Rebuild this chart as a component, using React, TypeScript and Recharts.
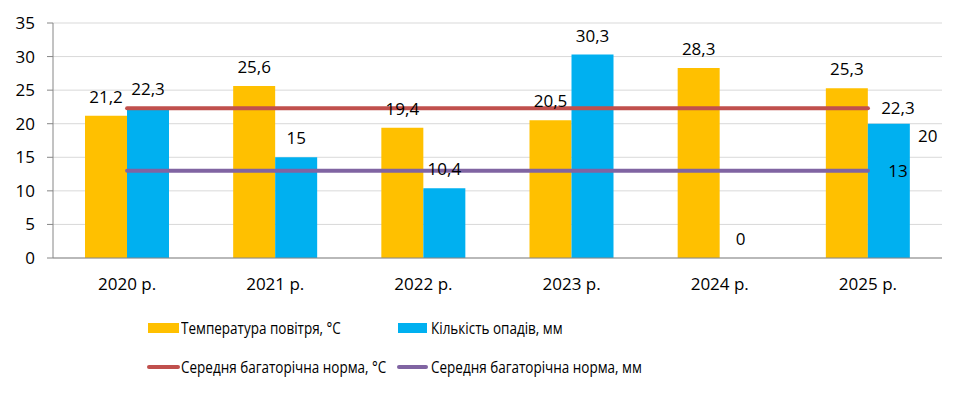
import { Bar, CartesianGrid, ComposedChart, LabelList, Line, XAxis, YAxis } from "recharts";

const years = ["2020 р.", "2021 р.", "2022 р.", "2023 р.", "2024 р.", "2025 р."];
const temperature = [21.2, 25.6, 19.4, 20.5, 28.3, 25.3];
const precipitation = [22.3, 15, 10.4, 30.3, 0, 20];
const normTemperature = [22.3, 22.3, 22.3, 22.3, 22.3, 22.3];
const normPrecipitation = [13, 13, 13, 13, 13, 13];
const yTicks = [0, 5, 10, 15, 20, 25, 30, 35];
const boundaryTicks = [0, 1, 2, 3, 4, 5, 6];

const data = years.map((year, i) => ({
    year,
    temp: temperature[i],
    rain: precipitation[i],
    normT: normTemperature[i],
    normP: normPrecipitation[i],
}));

const FONT = "'Open Sans', 'Liberation Sans', sans-serif";
const lastYear = years[years.length - 1];
const fmt = (v: number) => String(v).replace(".", ",");

const box = (props: any) => {
    const vb = props.viewBox || {};
    const x = Number(vb.x ?? props.x);
    const y = Number(vb.y ?? props.y);
    const width = Number(vb.width ?? props.width ?? 0);
    const height = Number(vb.height ?? props.height ?? 0);
    return { x, y, width, height };
};

// label values come in as "year|value" so the last year can be found without relying on index
const rainLabel = (props: any) => {
    const [year, raw] = String(props.value).split("|");
    const { x, y, width, height } = box(props);
    const top = height < 0 ? y + height : y;
    if (year === lastYear) {
        return <text x={x + width + 18} y={top + 18} textAnchor="middle" fontSize={17} fill="#000">{fmt(Number(raw))}</text>;
    }
    return <text x={x + width / 2} y={top - 13} textAnchor="middle" fontSize={17} fill="#000">{fmt(Number(raw))}</text>;
};

const lineEndLabel = (props: any) => {
    const [year, raw] = String(props.value).split("|");
    if (year !== lastYear) return null;
    const { x, y } = box(props);
    return <text x={x + 30} y={y + 6} textAnchor="middle" fontSize={17} fill="#000">{fmt(Number(raw))}</text>;
};

const legendText = {
    position: "absolute" as const, fontSize: 15.5, fontFamily: FONT, lineHeight: "18px", color: "#000",
    whiteSpace: "nowrap" as const, transform: "scaleX(0.87)", transformOrigin: "left center",
};

const App = () => {
    return <div style={{ position: "absolute", left: 0, top: 0, width: 965, height: 394, background: "#fff" }}>
        <ComposedChart width={965} height={394} data={data} barCategoryGap="21.6%" barGap={0}
            margin={{ top: 23, right: 23, left: 0, bottom: 82 }} style={{ fontFamily: FONT }}>
            <CartesianGrid vertical={false} stroke="#D9D9D9" yAxisId="y" xAxisId="cat" />
            <XAxis xAxisId="b" type="number" domain={[0, 6]} ticks={boundaryTicks} allowDataOverflow
                tick={false} tickSize={6} height={6} stroke="#868686" />
            <XAxis xAxisId="cat" dataKey="year" axisLine={false} tickLine={false} tickSize={0} tickMargin={14}
                height={48} tick={{ fontSize: 17, fill: "#000" }} interval={0} />
            <YAxis yAxisId="y" domain={[0, 35]} ticks={yTicks} width={53} tickSize={6} tickMargin={12}
                stroke="#868686" tick={{ fontSize: 17, fill: "#000" }} interval={0} />
            <Bar xAxisId="cat" yAxisId="y" dataKey="temp" fill="#FFC000" isAnimationActive={false}>
                <LabelList dataKey="temp" position="top" offset={13} fontSize={17} fill="#000" formatter={(v: any) => fmt(v)} />
            </Bar>
            <Bar xAxisId="cat" yAxisId="y" dataKey="rain" fill="#00B0F0" minPointSize={0.01} isAnimationActive={false}>
                <LabelList dataKey={(d: any) => `${d.year}|${d.rain}`} content={rainLabel} />
            </Bar>
            <Line xAxisId="cat" yAxisId="y" dataKey="normT" stroke="#C0504D" strokeWidth={4} strokeLinecap="round"
                dot={false} activeDot={false} isAnimationActive={false}>
                <LabelList dataKey={(d: any) => `${d.year}|${d.normT}`} content={lineEndLabel} />
            </Line>
            <Line xAxisId="cat" yAxisId="y" dataKey="normP" stroke="#8064A2" strokeWidth={4} strokeLinecap="round"
                dot={false} activeDot={false} isAnimationActive={false}>
                <LabelList dataKey={(d: any) => `${d.year}|${d.normP}`} content={lineEndLabel} />
            </Line>
        </ComposedChart>

        <div style={{ position: "absolute", left: 148, top: 323, width: 31, height: 10, background: "#FFC000" }} />
        <div style={{ ...legendText, left: 181, top: 319 }}>Температура повітря, °С</div>
        <div style={{ position: "absolute", left: 398, top: 323, width: 29, height: 10, background: "#00B0F0" }} />
        <div style={{ ...legendText, left: 431, top: 319 }}>Кількість опадів, мм</div>

        <div style={{ position: "absolute", left: 147, top: 365, width: 33, height: 4, borderRadius: 2, background: "#C0504D" }} />
        <div style={{ ...legendText, left: 181, top: 358 }}>Середня багаторічна норма, °С</div>
        <div style={{ position: "absolute", left: 397, top: 365, width: 31, height: 4, borderRadius: 2, background: "#8064A2" }} />
        <div style={{ ...legendText, left: 431, top: 358 }}>Середня багаторічна норма, мм</div>
    </div>;
};

export default App;
